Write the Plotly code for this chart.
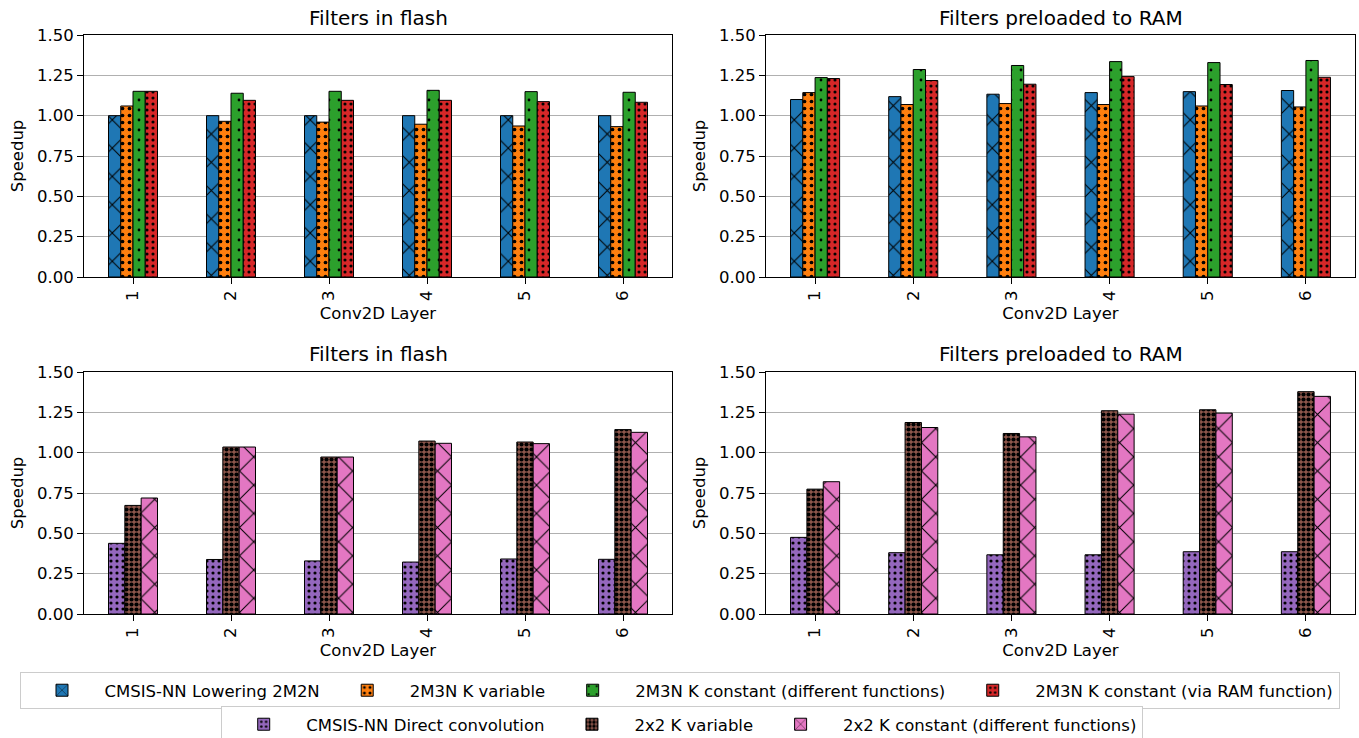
import plotly.graph_objects as go

layers = ["1", "2", "3", "4", "5", "6"]

# Top row (2M2N / 2M3N variants)
lowering_flash = [1.00, 1.00, 1.00, 1.00, 1.00, 1.00]
k_var_flash = [1.06, 0.965, 0.96, 0.947, 0.936, 0.932]
k_const_flash = [1.151, 1.139, 1.151, 1.157, 1.149, 1.145]
k_ram_flash = [1.151, 1.095, 1.095, 1.095, 1.087, 1.083]

lowering_ram = [1.100, 1.118, 1.133, 1.143, 1.149, 1.156]
k_var_ram = [1.143, 1.069, 1.075, 1.069, 1.060, 1.054]
k_const_ram = [1.236, 1.286, 1.311, 1.335, 1.329, 1.342]
k_ramfn_ram = [1.230, 1.218, 1.195, 1.242, 1.193, 1.238]

# Bottom row (direct / 2x2 variants)
direct_flash = [0.438, 0.338, 0.329, 0.322, 0.341, 0.339]
x2_var_flash = [0.673, 1.035, 0.973, 1.072, 1.066, 1.143]
x2_const_flash = [0.719, 1.035, 0.973, 1.058, 1.056, 1.126]

direct_ram = [0.475, 0.380, 0.367, 0.367, 0.386, 0.386]
x2_var_ram = [0.774, 1.187, 1.119, 1.260, 1.266, 1.378]
x2_const_ram = [0.820, 1.156, 1.098, 1.239, 1.245, 1.349]

top_names = ["CMSIS-NN Lowering 2M2N", "2M3N K variable",
             "2M3N K constant (different functions)", "2M3N K constant (via RAM function)"]
bot_names = ["CMSIS-NN Direct convolution", "2x2 K variable", "2x2 K constant (different functions)"]

top_colors = ["#1f77b4", "#ff7f0e", "#2ca02c", "#d62728"]
bot_colors = ["#9467bd", "#8c564b", "#e377c2"]

top_patterns = [dict(shape="x", size=20, solidity=0.1),
                dict(shape=".", size=7, solidity=0.22),
                dict(shape=".", size=10, solidity=0.06),
                dict(shape=".", size=6, solidity=0.22)]
bot_patterns = [dict(shape=".", size=6, solidity=0.22),
                dict(shape=".", size=5, solidity=0.55),
                dict(shape="x", size=20, solidity=0.1)]

top_flash = [lowering_flash, k_var_flash, k_const_flash, k_ram_flash]
top_ram = [lowering_ram, k_var_ram, k_const_ram, k_ramfn_ram]
bot_flash = [direct_flash, x2_var_flash, x2_const_flash]
bot_ram = [direct_ram, x2_var_ram, x2_const_ram]

fig = go.Figure()

def add(vals_list, names, colors, patterns, xa, ya, legend, show):
    for v, n, c, p in zip(vals_list, names, colors, patterns):
        fig.add_trace(go.Bar(
            x=layers, y=v, name=n, legendgroup=n, showlegend=show, legend=legend,
            xaxis=xa, yaxis=ya,
            marker=dict(color=c, line=dict(color="black", width=1),
                        pattern=dict(fgcolor="black", bgcolor=c, fillmode="replace", **p)),
            offsetgroup=n,
        ))

add(top_flash, top_names, top_colors, top_patterns, "x", "y", "legend", True)
add(top_ram, top_names, top_colors, top_patterns, "x2", "y2", "legend", False)
add(bot_flash, bot_names, bot_colors, bot_patterns, "x3", "y3", "legend2", True)
add(bot_ram, bot_names, bot_colors, bot_patterns, "x4", "y4", "legend2", False)

W, H = 1359, 738
FONT = "DejaVu Sans"
FS = 16.5

def px_x(a, b):
    return [a / W, b / W]

def px_y(top, bottom):
    return [(H - bottom) / H, (H - top) / H]

xdoms = {"": px_x(84, 672), "2": px_x(766, 1355), "3": px_x(84, 672), "4": px_x(766, 1355)}
ydoms = {"": px_y(35, 277), "2": px_y(35, 277), "3": px_y(372, 614), "4": px_y(372, 614)}

axis_common = dict(showline=True, mirror=True, linecolor="black", linewidth=1,
                   ticks="outside", ticklen=6, tickcolor="black", zeroline=False,
                   tickfont=dict(size=FS, color="black", family=FONT))

layout = dict(
    width=W, height=H,
    margin=dict(l=0, r=0, t=0, b=0, autoexpand=False),
    paper_bgcolor="white", plot_bgcolor="white",
    barmode="group", bargap=0.5, bargroupgap=0,
    font=dict(family=FONT, size=FS, color="black"),
)

for k in ["", "2", "3", "4"]:
    layout["xaxis" + k] = dict(axis_common, domain=xdoms[k], anchor="y" + k,
                               type="category", range=[-0.5, 5.5], tickangle=-90,
                               showgrid=False,
                               title=dict(text="Conv2D Layer", standoff=7,
                                          font=dict(size=FS, family=FONT, color="black")))
    layout["yaxis" + k] = dict(axis_common, domain=ydoms[k], anchor="x" + k,
                               range=[0, 1.5], tickvals=[0, 0.25, 0.5, 0.75, 1.0, 1.25, 1.5],
                               tickformat=".2f", showgrid=True, gridcolor="#b0b0b0", gridwidth=1,
                               title=dict(text="Speedup", standoff=9,
                                          font=dict(size=FS, family=FONT, color="black")))

titles = [("Filters in flash", xdoms[""], 18), ("Filters preloaded to RAM", xdoms["2"], 18),
          ("Filters in flash", xdoms["3"], 354), ("Filters preloaded to RAM", xdoms["4"], 354)]
layout["annotations"] = [
    dict(text=t, x=(d[0] + d[1]) / 2, y=(H - yy) / H, xref="paper", yref="paper",
         xanchor="center", yanchor="middle", showarrow=False,
         font=dict(size=20, family=FONT, color="black"))
    for t, d, yy in titles
]

layout["legend"] = dict(orientation="h", x=0.5, xanchor="center", y=(H - 672) / H, yanchor="top",
                        bordercolor="#cccccc", borderwidth=1, bgcolor="white", itemwidth=75,
                        font=dict(size=FS, family=FONT, color="black"))
layout["legend2"] = dict(orientation="h", x=0.502, xanchor="center", y=(H - 706) / H, yanchor="top",
                         bordercolor="#cccccc", borderwidth=1, bgcolor="white", itemwidth=75,
                         font=dict(size=FS, family=FONT, color="black"))

fig.update_layout(**layout)
fig.write_html("out.html", config={"displayModeBar": False},
               post_script="document.body.style.margin='0';document.body.style.overflow='hidden';")
